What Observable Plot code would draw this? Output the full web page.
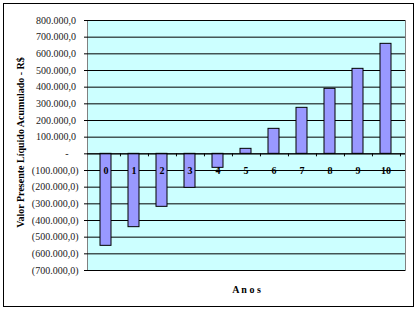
<!DOCTYPE html>
<html><head><meta charset="utf-8">
<script src="https://cdn.jsdelivr.net/npm/d3@7"></script>
<script src="https://cdn.jsdelivr.net/npm/@observablehq/plot@0.6"></script>
<style>
html,body{margin:0;padding:0;background:#fff;}
#wrap{position:relative;width:416px;height:310px;}
#border{position:absolute;left:3px;top:3px;width:409px;height:302px;border:1px solid #000;pointer-events:none;}
</style></head>
<body><div id="wrap"><div id="border"></div></div>
<script>
const anos = ["0","1","2","3","4","5","6","7","8","9","10"];
const vpl = [-552000,-440000,-318000,-204000,-84000,30000,150000,276000,390000,510000,660000];
const yTicks = [-700000,-600000,-500000,-400000,-300000,-200000,-100000,0,100000,200000,300000,400000,500000,600000,700000,800000];

const data = anos.map((a,i)=>({ano:a, v:vpl[i]}));
const loc = d3.formatLocale({decimal:",", thousands:".", grouping:[3], currency:["R$",""]});
const f = loc.format(",.1f");
const fmt = d => d === 0 ? "-\u00a0\u00a0\u00a0\u00a0" : d < 0 ? "(" + f(-d) + ")" : f(d) + "\u00a0";

const W = 416, H = 310, ML = 87, MR = 11, MT = 20, MB = 40;
const step = (W - ML - MR) / anos.length;

const chart = Plot.plot({
  width: W, height: H,
  marginLeft: ML, marginRight: MR, marginTop: MT, marginBottom: MB,
  style: {fontFamily: "'Liberation Serif','Times New Roman',serif", background: "transparent", overflow: "visible"},
  x: {domain: anos, paddingInner: 0.6, paddingOuter: 0.3, axis: null, label: null},
  y: {domain: [-700000, 800000], axis: null, label: null},
  marks: [
    Plot.frame({fill: "#ccffff", stroke: "#808080"}),
    Plot.gridY(yTicks, {stroke: "#000", strokeOpacity: 1, strokeWidth: 1}),
    Plot.axisY(yTicks, {label: null, tickFormat: fmt, tickSize: 3, tickPadding: 6, fontSize: 10, fill: "#222", stroke: "#000"}),
    Plot.ruleX([0], {stroke: "#000"}),
    Plot.barY(data, {x: "ano", y: "v", fill: "#9999ff", stroke: "#000", strokeWidth: 1}),
    Plot.ruleY([0], {stroke: "#000"}),
    Plot.ruleX(anos, {x: d => d, y1: 0, y2: -18000, dx: step/2, stroke: "#000"}),
    Plot.text(anos, {x: d => d, y: () => 0, dy: 17, text: d => d, fontWeight: "bold", fontSize: 10, fill: "#000"}),
    Plot.text(["A n o s"], {frameAnchor: "bottom", dy: 22, text: d => d, fontWeight: "bold", fontSize: 10, fill: "#000"}),
    Plot.text(["Valor Presente Líquido Acumulado - R$"], {frameAnchor: "left", dx: -67, dy: -3, rotate: -90, textAnchor: "middle", text: d => d, fontWeight: "bold", fontSize: 10, fill: "#000"})
  ]
});
document.getElementById("wrap").appendChild(chart);
</script></body></html>
